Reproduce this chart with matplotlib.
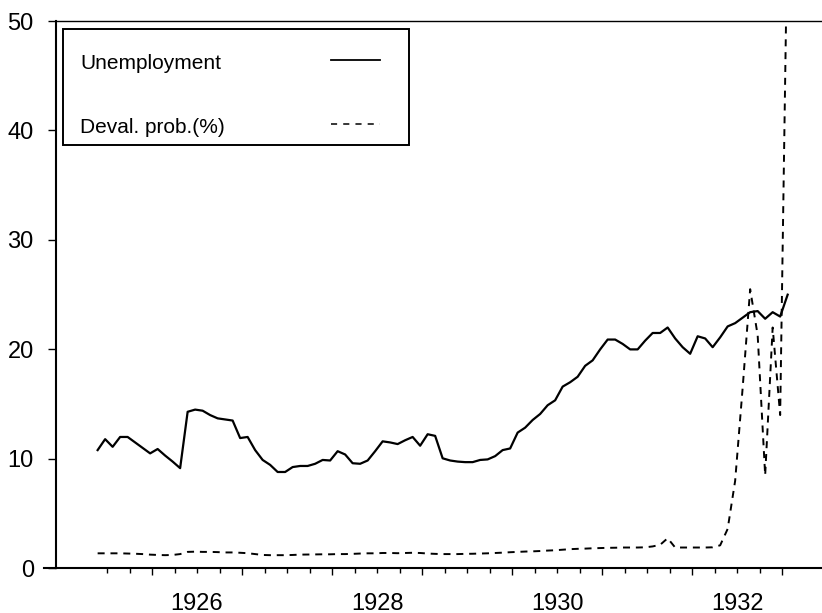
import numpy as np
import matplotlib as mpl
from matplotlib import pyplot as plt
from matplotlib.patches import Rectangle
from matplotlib.ticker import FixedLocator, FuncFormatter, NullFormatter

mpl.rcParams.update({
    "font.family": ["Liberation Sans", "DejaVu Sans"],
})

# monthly series, May 1925 .. Jan 1933
start_year = 1925
start_month = 5

unemployment = [
    10.8, 11.8, 11.1, 12.0, 12.0, 11.5, 11.0, 10.5, 10.9, 10.3,
    9.75, 9.15, 14.3, 14.5, 14.4, 14.0, 13.7, 13.6, 13.5, 11.9,
    12.0, 10.8, 9.9, 9.45, 8.8, 8.8, 9.25, 9.35, 9.35, 9.55,
    9.9, 9.85, 10.7, 10.4, 9.6, 9.55, 9.85, 10.7, 11.6, 11.5,
    11.35, 11.7, 12.0, 11.2, 12.25, 12.1, 10.05, 9.85, 9.75, 9.7,
    9.7, 9.9, 9.95, 10.25, 10.8, 10.95, 12.4, 12.85, 13.55, 14.1,
    14.9, 15.35, 16.6, 17.0, 17.5, 18.5, 19.0, 20.0, 20.9, 20.9,
    20.5, 20.0, 20.0, 20.8, 21.5, 21.5, 22.0, 21.0, 20.2, 19.6,
    21.2, 21.0, 20.2, 21.1, 22.1, 22.4, 22.9, 23.4, 23.5, 22.8,
    23.4, 23.0, 25.0,
]

deval_prob = [
    1.37, 1.37, 1.37, 1.37, 1.35, 1.33, 1.30, 1.25, 1.22, 1.20,
    1.22, 1.30, 1.50, 1.52, 1.50, 1.50, 1.48, 1.45, 1.45, 1.42,
    1.38, 1.30, 1.22, 1.20, 1.20, 1.20, 1.22, 1.25, 1.26, 1.27,
    1.28, 1.28, 1.30, 1.30, 1.32, 1.35, 1.37, 1.37, 1.40, 1.40,
    1.38, 1.40, 1.42, 1.40, 1.35, 1.32, 1.30, 1.30, 1.30, 1.32,
    1.33, 1.35, 1.37, 1.40, 1.43, 1.47, 1.50, 1.53, 1.55, 1.58,
    1.62, 1.65, 1.70, 1.75, 1.78, 1.80, 1.83, 1.85, 1.87, 1.88,
    1.90, 1.90, 1.90, 1.92, 2.00, 2.15, 2.75, 1.90, 1.90, 1.90,
    1.90, 1.90, 1.92, 2.10, 3.6, 8.0, 16.5, 25.5, 21.3, 8.5,
    22.0, 14.0, 60.0,
]

year_labels = ["1926", "1928", "1930", "1932"]
legend_labels = ["Unemployment", "Deval. prob.(%)"]

months = np.arange(len(unemployment))
t = start_year + (start_month - 1 + 0.75 + months) / 12.0

fig = plt.figure(figsize=(8.22, 6.13), dpi=100)
ax = fig.add_axes([0.0681, 0.0729, 0.9319, 0.8928])

ax.plot(t, unemployment, color='black', linewidth=1.6)
ax.plot(t, deval_prob, color='black', linewidth=1.4, dashes=(3.6, 3.0))

ax.set_xlim(1924.933, 1933.444)
ax.set_ylim(0, 50)

# spines: no right one
ax.spines['right'].set_visible(False)
ax.spines['top'].set_linewidth(1.0)
ax.spines['left'].set_linewidth(1.5)
ax.spines['bottom'].set_linewidth(1.5)
# bottom axis line sticks out a little on the left
ax.plot([-0.016, 0], [0, 0], transform=ax.transAxes, color='black',
        linewidth=1.5, clip_on=False)

# y axis
ax.set_yticks(np.arange(0, 51, 10))
ax.tick_params(axis='y', direction='out', length=6, width=1.0, pad=10,
               labelsize=17)

# x axis: long ticks at year starts, short ticks each quarter,
# labels centred on the middle of every second year
years = np.arange(1926, 1934)
quarters = np.arange(1925.5, 1933.01, 0.25)
label_at = {int(y) + 0.5: y for y in year_labels}


def year_label(x, pos):
    for m, y in label_at.items():
        if abs(x - m) < 1e-6:
            return y
    return ""


ax.xaxis.set_major_locator(FixedLocator(years))
ax.xaxis.set_major_formatter(NullFormatter())
ax.xaxis.set_minor_locator(FixedLocator(quarters))
ax.xaxis.set_minor_formatter(FuncFormatter(year_label))
ax.tick_params(axis='x', which='major', direction='out', length=5, width=1.0)
ax.tick_params(axis='x', which='minor', direction='out', length=3.5, width=1.0,
               pad=14, labelsize=17)

# hand-drawn legend box, label first then line sample
ax.add_patch(Rectangle((0.009, 0.773), 0.452, 0.212, transform=ax.transAxes,
                       fill=False, edgecolor='black', linewidth=1.4))
ax.text(0.0313, 0.923, legend_labels[0], transform=ax.transAxes,
        fontsize=15, va='center', ha='left')
ax.text(0.0313, 0.805, legend_labels[1], transform=ax.transAxes,
        fontsize=15, va='center', ha='left')
ax.plot([0.359, 0.423], [0.929, 0.929], transform=ax.transAxes,
        color='black', linewidth=1.3)
ax.plot([0.359, 0.423], [0.811, 0.811], transform=ax.transAxes,
        color='black', linewidth=1.1, dashes=(4.0, 4.0))

plt.savefig('out.png', dpi=100)
plt.close()
